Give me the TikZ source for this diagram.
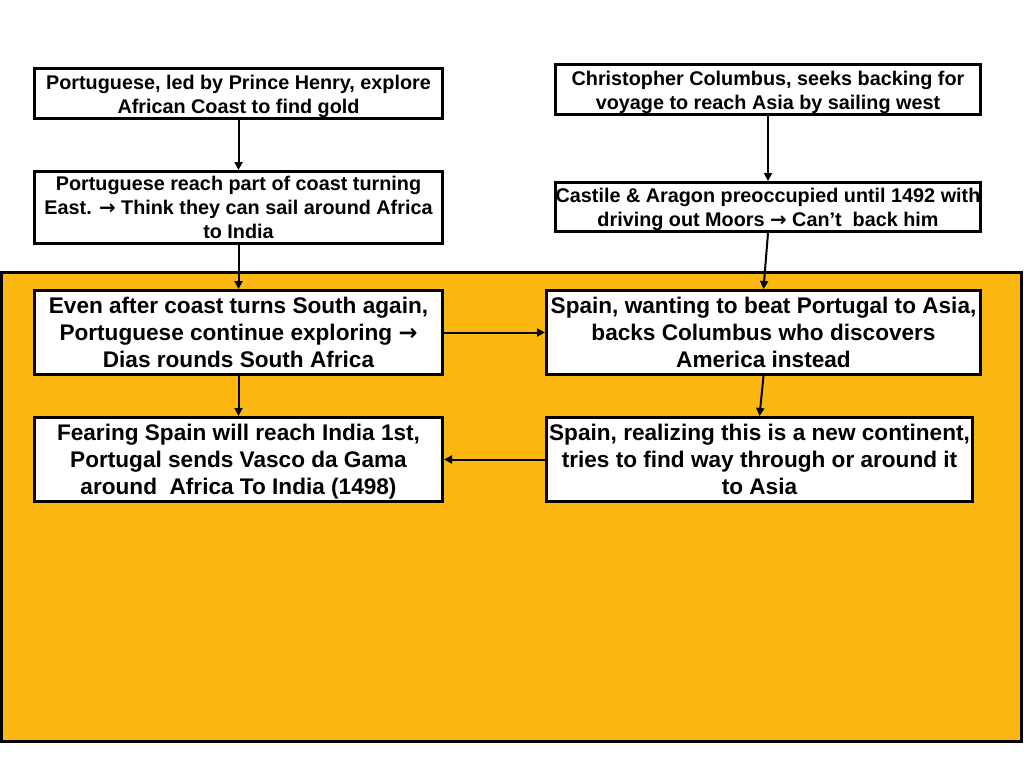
\documentclass[tikz,border=0pt]{standalone}
\usepackage{fontspec}
\setmainfont{Liberation Sans}
\newfontfamily\arrfont{DejaVu Sans}
\usetikzlibrary{arrows.meta}
\definecolor{orangebg}{RGB}{253,183,19}
\newcommand{\rarr}{{\arrfont\bfseries →}}
\newcommand{\topstrut}{\rule{0pt}{19.5pt}}
\begin{document}
\begin{tikzpicture}[x=1pt,y=-1pt,
  box/.style={draw, line width=3pt, fill=white, inner sep=0pt, align=center},
  small/.style={font=\bfseries\fontsize{19.8}{23.8}\selectfont},
  big/.style={font=\bfseries\fontsize{22.6}{27}\selectfont},
  arr/.style={line width=2pt, -{Triangle[length=8pt,width=8pt]}}]
\useasboundingbox (0,0) rectangle (1024,768);
\fill[white] (0,0) rectangle (1024,768);
\draw[line width=3pt, fill=orangebg] (1.5,272.5) rectangle (1021.5,741.5);
\node[box, small, minimum width=408pt, minimum height=50pt] (a1) at (238.5,93.5)
  {\topstrut Portuguese, led by Prince Henry, explore\\African Coast to find gold};
\node[box, small, minimum width=408pt, minimum height=72pt] (a2) at (238.5,207.5)
  {Portuguese reach part of coast turning\\East. \rarr{} Think they can sail around Africa\\to India};
\node[box, small, minimum width=425pt, minimum height=50pt] (b1) at (768,89.5)
  {\topstrut Christopher Columbus, seeks backing for\\voyage to reach Asia by sailing west};
\node[box, small, minimum width=425pt, minimum height=49pt] (b2) at (768,207)
  {\topstrut Castile \& Aragon preoccupied until 1492 with\\driving out Moors \rarr{} Can’t\ \ back him};
\node[box, big, minimum width=408pt, minimum height=84pt] (a3) at (238.5,332.5)
  {Even after coast turns South again,\\Portuguese continue exploring \rarr\\Dias rounds South Africa};
\node[box, big, minimum width=408pt, minimum height=84pt] (a4) at (238.5,459.5)
  {\rule{0pt}{20.5pt}Fearing Spain will reach India 1st,\\Portugal sends Vasco da Gama\\around\ \ Africa To India (1498)};
\node[box, big, minimum width=434pt, minimum height=84pt] (b3) at (763.5,332.5)
  {Spain, wanting to beat Portugal to Asia,\\backs Columbus who discovers\\America instead};
\node[box, big, minimum width=426pt, minimum height=84pt] (b4) at (759.5,459.5)
  {Spain, realizing this is a new continent,\\tries to find way through or around it\\to Asia};
\draw[arr] (a1.south) -- (a2.north);
\draw[arr] (a2.south) -- (a3.north);
\draw[arr] (a3.south) -- (a4.north);
\draw[arr] (b1.south) -- (b2.north);
\draw[arr] (b2.south) -- (b3.north);
\draw[arr] (b3.south) -- (b4.north);
\draw[arr] (a3.east) -- (b3.west);
\draw[arr] (b4.west) -- (a4.east);
\end{tikzpicture}
\end{document}
